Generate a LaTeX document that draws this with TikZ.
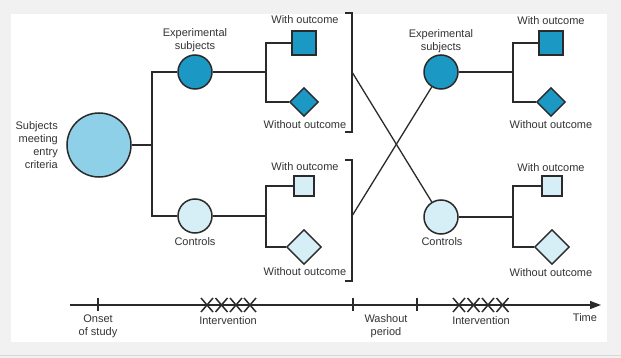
\documentclass[tikz,border=0pt]{standalone}
\usepackage{fontspec}
\setmainfont{Liberation Sans}
\usetikzlibrary{shapes.geometric,arrows.meta}
\definecolor{darkb}{HTML}{1B98C4}
\definecolor{midb}{HTML}{8ED0E8}
\definecolor{lightb}{HTML}{D6EEF6}
\definecolor{ink}{HTML}{2A2A2A}
\definecolor{txt}{HTML}{333333}
\definecolor{bgg}{HTML}{F1F1F1}
\begin{document}
\begin{tikzpicture}[x=1pt,y=-1pt,
  conn/.style={draw=ink,line width=1.3pt},
  circ/.style={circle,draw=ink,line width=1.5pt,inner sep=0pt},
  sq/.style={rectangle,draw=ink,line width=1.4pt,inner sep=0pt},
  dia/.style={diamond,draw=ink,line width=1.4pt,inner sep=0pt,aspect=1},
  lbl/.style={font=\fontsize{11}{12.8}\selectfont,text=txt,align=center,inner sep=0pt},
  xmark/.style={draw=ink,line width=1.5pt}]
\useasboundingbox (0,0) rectangle (621,358);
\fill[bgg] (0,0) rectangle (621,358);
\fill[white] (11,14) rectangle (607,342);
\draw[gray!30,line width=1pt] (0,355) -- (621,355);

% nodes
\node[circ,fill=midb,minimum size=64pt] (big) at (99,145) {};
\node[circ,fill=darkb,minimum size=34pt] (e1) at (195,72) {};
\node[circ,fill=lightb,minimum size=34pt] (c1) at (195,216) {};
\node[circ,fill=darkb,minimum size=34pt] (e2) at (441,72) {};
\node[circ,fill=lightb,minimum size=34pt] (c2) at (441,217) {};

\node[sq,fill=darkb,minimum size=24pt] (s1) at (304,43) {};
\node[dia,fill=darkb,minimum size=29pt] (d1) at (304,102) {};
\node[sq,fill=lightb,minimum size=20pt] (s2) at (304,186) {};
\node[dia,fill=lightb,minimum size=35pt] (d2) at (304,247) {};
\node[sq,fill=darkb,minimum size=24pt] (s3) at (551,43) {};
\node[dia,fill=darkb,minimum size=29pt] (d3) at (551,102) {};
\node[sq,fill=lightb,minimum size=20pt] (s4) at (552,186) {};
\node[dia,fill=lightb,minimum size=35pt] (d4) at (552,247) {};

% junctions
\coordinate (j0) at (152,145);
\coordinate (j1) at (266,72);
\coordinate (j2) at (266,216);
\coordinate (j3) at (513,72);
\coordinate (j4) at (513,217);
\coordinate (x1) at (352,72);
\coordinate (x2) at (352,216);
\coordinate (b1t) at (345,13);
\coordinate (b1b) at (345,132);
\coordinate (b2t) at (345,160);
\coordinate (b2b) at (345,281);

\draw[conn] (big.east) -- (j0);
\draw[conn] (e1.west) -| (j0) |- (c1.west);
\draw[conn] (e1.east) -- (j1);
\draw[conn] (s1.west) -| (j1) |- (d1.west);
\draw[conn] (c1.east) -- (j2);
\draw[conn] (s2.west) -| (j2) |- (d2.west);
\draw[conn] (e2.east) -- (j3);
\draw[conn] (s3.west) -| (j3) |- (d3.west);
\draw[conn] (c2.east) -- (j4);
\draw[conn] (s4.west) -| (j4) |- (d4.west);

% brackets
\draw[conn,line width=1.1pt] (b1t) -| (x1) |- (b1b);
\draw[conn,line width=1.1pt] (b2t) -| (x2) |- (b2b);
\draw[conn] (x1) -- (c2);
\draw[conn] (x2) -- (e2);

% labels
\node[lbl,align=right,anchor=east] (lbig) at (58,145) {Subjects\\meeting\\entry\\criteria};
\node[lbl] (le1) at (195,40) {Experimental\\subjects};
\node[lbl] (lc1) at (195,242) {Controls};
\node[lbl] (le2) at (441,41) {Experimental\\subjects};
\node[lbl] (lc2) at (442,242) {Controls};
\node[lbl] (ls1) at (305,20) {With outcome};
\node[lbl] (ld1) at (305,125) {Without outcome};
\node[lbl] (ls2) at (305,167) {With outcome};
\node[lbl] (ld2) at (305,272) {Without outcome};
\node[lbl] (ls3) at (551,21) {With outcome};
\node[lbl] (ld3) at (551,125) {Without outcome};
\node[lbl] (ls4) at (551,168) {With outcome};
\node[lbl] (ld4) at (551,273) {Without outcome};

% timeline
\coordinate (t0) at (70,305);
\coordinate (t1) at (601,305);
\draw[conn,-{Triangle[length=11pt,width=8pt]}] (t0) -- (t1);
\foreach \tx in {98,353,417} {\draw[conn] (\tx,298) -- (\tx,311);}
\foreach \c in {207,221.5,236,250,459,473.5,488,502.5} {
  \draw[xmark] ({\c-6},298) -- ({\c+6},312) ({\c-6},312) -- ({\c+6},298);}
\node[lbl] (lon) at (98,326) {Onset\\of study};
\node[lbl] (li1) at (228,321) {Intervention};
\node[lbl] (lwa) at (386,326) {Washout\\period};
\node[lbl] (li2) at (481,321) {Intervention};
\node[lbl] (lti) at (585,318) {Time};
\end{tikzpicture}
\end{document}
